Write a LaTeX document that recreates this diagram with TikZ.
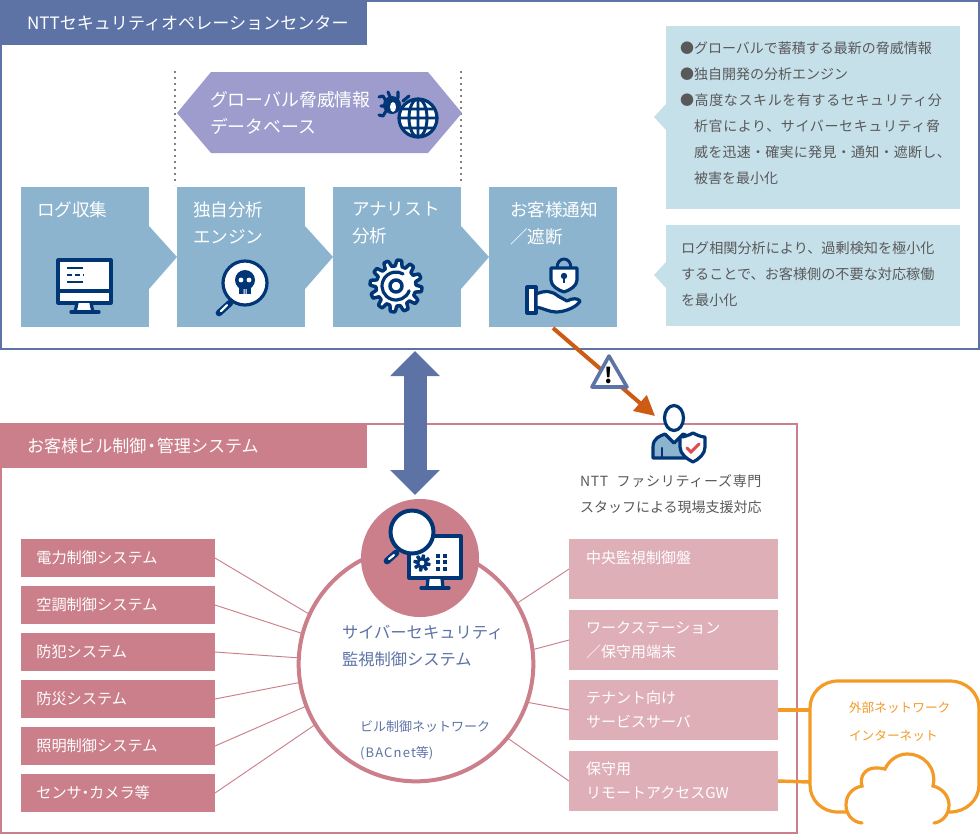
\documentclass[tikz,border=0pt]{standalone}
\usepackage{fontspec}
\setmainfont{Noto Sans CJK JP}
\usetikzlibrary{arrows.meta,positioning}
\definecolor{headblue}{HTML}{5D73A6}
\definecolor{flowblue}{HTML}{8CB4CE}
\definecolor{paleblue}{HTML}{C6E0EA}
\definecolor{dbpurple}{HTML}{9D9CCD}
\definecolor{rosedark}{HTML}{CB7F8A}
\definecolor{roselight}{HTML}{DFAFB8}
\definecolor{extorange}{HTML}{F39A27}
\definecolor{alertorange}{HTML}{CD5B14}
\definecolor{iconnavy}{HTML}{003576}
\definecolor{notegray}{HTML}{595959}
\newcommand{\wide}[1]{\addfontfeature{LetterSpace=#1}}
\tikzset{
	x=0.75pt, y=-0.75pt, % one unit is one pixel of the reference
	every node/.style={inner sep=0pt, outer sep=0pt},
	headtext/.style={text=white, anchor=west, font=\fontsize{12.8}{16}\selectfont},
	flowbox/.style={fill=flowblue, anchor=north west, minimum width=96pt, minimum height=105pt},
	flowtext/.style={text=white, anchor=north west, align=left, font=\fontsize{13.2}{20.25}\selectfont},
	notebox/.style={fill=paleblue, anchor=north west, minimum width=220.5pt},
	notetext/.style={text=notegray, anchor=north west, align=left, font=\fontsize{10.5}{19.5}\selectfont},
	ctlbox/.style={fill=rosedark, text=white, anchor=north west, minimum width=145.5pt, minimum height=28.5pt,
		inner xsep=11.5pt, text width=122.5pt, align=left, font=\fontsize{11.4}{16}\selectfont},
	subbox/.style={fill=roselight, text=white, anchor=north west, minimum width=156.75pt, minimum height=45pt,
		inner xsep=12.75pt, text width=131.25pt, align=left, font=\fontsize{11.25}{18}\selectfont},
	rosewire/.style={draw=rosedark, line width=0.7pt},
	orangewire/.style={draw=extorange, line width=2.6pt},
	dotline/.style={draw=gray, line width=1.2pt, dash pattern=on 1.2pt off 3.3pt},
	icon/.style={draw=iconnavy, line width=2.4pt, line join=round, line cap=round},
}

\begin{document}
\begin{tikzpicture}
	\useasboundingbox (0,0) rectangle (980,833);
	\fill[white] (0,0) rectangle (980,833);

	% the two frames
	\node[draw=headblue, line width=1.5pt, anchor=north west, minimum width=733.5pt, minimum height=261pt] (opsframe) at (1,1) {};
	\node[draw=rosedark, line width=1.5pt, anchor=north west, minimum width=597pt, minimum height=306.5pt] (custframe) at (1,424) {};
	\node[fill=headblue, anchor=north west, minimum width=275.25pt, minimum height=33.75pt] (opshead) at (0,0) {};
	\node[fill=rosedark, anchor=north west, minimum width=275.25pt, minimum height=33pt] (custhead) at (0,424) {};
	\node[headtext] (opslabel) at (27,23) {NTTセキュリティオペレーションセンター};
	\node[headtext] (custlabel) at (27,446) {お客様ビル制御\kern-2.5pt・\kern-2.5pt管理システム};

	% threat database
	\draw[dotline] (175,71) -- (175,185);
	\draw[dotline] (461,71) -- (461,185);
	\fill[dbpurple] (177,113) -- (211,72) -- (428,72) -- (462,113) -- (428,153) -- (211,153) -- cycle;
	\node[flowtext, font=\fontsize{13.4}{20.25}\selectfont] (dblabel) at (210,91) {グローバル脅威情報\\データベース};

	% flow boxes
	\node[flowbox] (logbox) at (21,187) {};
	\node[flowbox] (enginebox) at (177,187) {};
	\node[flowbox] (analystbox) at (333,187) {};
	\node[flowbox] (alertbox) at (489,187) {};
	\foreach \x in {149,305,461}
		\fill[flowblue] (\x,226) -- (\x+28,257) -- (\x,289) -- cycle;
	\node[flowtext] (loglabel) at (37,202) {ログ収集};
	\node[flowtext] (enginelabel) at (193,202) {独自分析\\エンジン};
	\node[flowtext] (analystlabel) at (352,202) {アナリスト\\分析};
	\node[flowtext] (alertlabel) at (510,202) {お客様通知\\／遮断};

	% notes on the right
	\node[notebox, minimum height=137.25pt] (noteone) at (666,26) {};
	\fill[paleblue] (666,104) -- (654,117) -- (666,130) -- cycle;
	\node[notetext] (noteonetext) at (680,42) {●グローバルで蓄積する最新の脅威情報\\●独自開発の分析エンジン\\{\wide{4.5}●高度なスキルを有するセキュリティ分}\\\hspace*{10.5pt}{\wide{4.5}析官により、サイバーセキュリティ脅}\\\hspace*{10.5pt}{\wide{2}威を迅速・確実に発見・通知・遮断し、}\\\hspace*{10.5pt}被害を最小化};
	\node[notebox, minimum height=75.75pt] (notetwo) at (666,225) {};
	\fill[paleblue] (666,262) -- (654,275) -- (666,288) -- cycle;
	\node[notetext, font=\fontsize{10.6}{19.5}\selectfont] (notetwotext) at (681,242) {ログ相関分析により、過剰検知を極小化\\することで、お客様側の不要な対応稼働\\を最小化};

	% link between the frames
	\coordinate (linktop) at (415,351);
	\coordinate (linkbot) at (415,495);
	\draw[headblue, line width=17.25pt, {Triangle[width=36pt,length=18.75pt]}-{Triangle[width=36pt,length=18.75pt]}] (linktop) -- (linkbot);

	% alert arrow
	\coordinate (alertend) at (655,416);
	\draw[alertorange, line width=3pt, -{Triangle[width=15pt,length=15pt]}] (553,328) -- (alertend);
	\draw[headblue, fill=white, line width=2.7pt, line join=round] (609,356) -- (592,387) -- (627,387) -- cycle;
	\node[font=\fontsize{16}{16}\selectfont\bfseries] (warnmark) at (609,375) {!};

	% person with shield
	\draw[icon, fill=flowblue] (653,458) -- (653,447) .. controls (653,438) and (660,436) .. (665,434) -- (674,443) -- (683,434) .. controls (690,436) and (695,440) .. (695,447) -- (695,458) -- cycle;
	\draw[icon, line width=1.6pt] (662,458) -- (662,448);
	\draw[icon, fill=white] (674,418) ellipse (9.5 and 12.5);
	\draw[icon, fill=white] (680,437) .. controls (685,437) and (689,435) .. (693,433) .. controls (697,435) and (701,437) .. (705,437) -- (705,447) .. controls (705,454) and (699,459) .. (693,462) .. controls (687,459) and (680,454) .. (680,447) -- cycle;
	\draw[rosedark!60!red, line width=2.2pt, line cap=round] (687,448) -- (691,452) -- (699,444);
	\node[notetext] (stafftext) at (580,475) {{\wide{5}NTT\hspace{0.6em}ファシリティーズ専門}\\スタッフによる現場支援対応};

	% control systems on the left
	\foreach \y/\n/\t in {539/ctla/電力制御システム,586/ctlb/空調制御システム,633/ctlc/防犯システム,680/ctld/防災システム,727/ctle/照明制御システム,774/ctlf/センサ\kern-3pt・\kern-3ptカメラ等}
		\node[ctlbox] (\n) at (21,\y) {\t};

	% devices on the right
	\node[subbox] (subpanel) at (569,539) {中央監視制御盤\\\mbox{}};
	\node[subbox] (subwork) at (569,610) {ワークステーション\\／保守用端末};
	\node[subbox] (subserver) at (569,680) {テナント向け\\サービスサーバ};
	\node[subbox] (subgw) at (569,751) {保守用\\リモートアクセスGW};

	% network circle
	\node[circle, draw=rosedark, fill=white, line width=3pt, minimum size=176pt] (netcircle) at (416,664) {};
	\foreach \n/\a in {ctla/155,ctlb/165.6,ctlc/177.6,ctld/189.7,ctle/201.8,ctlf/211.7}
		\draw[rosewire] (\n.east) -- (netcircle.\a);
	\foreach \n/\a in {subpanel/31.4,subwork/7.8,subserver/-19,subgw/-39.6}
		\draw[rosewire] (\n.west) -- (netcircle.\a);
	\node[circle, fill=rosedark, minimum size=88.5pt] (iconcircle) at (420,558) {};
	\node[text=headblue, anchor=north west, align=left, font=\fontsize{12.2}{20.25}\selectfont] (nettitle) at (342,625) {サイバーセキュリティ\\監視制御システム};
	\node[text=headblue, anchor=north west, align=left, font=\fontsize{9.75}{19.5}\selectfont] (netnote) at (360,721) {ビル制御ネットワーク\\{\wide{9}(BACnet}等)};

	% external network
	\draw[orangewire] (subserver.east) -- (810,710);
	\draw[orangewire] (subgw.east) -- (810,782);
	\node[text=extorange, anchor=north west, align=left, font=\fontsize{9.5}{21}\selectfont] (extlabel) at (849,702) {外部ネットワーク\\インターネット};

	% icon: monitor
	\draw[icon, fill=white] (58,260) rectangle (111,303);
	\draw[icon] (58,291) -- (111,291);
	\draw[icon, fill=white] (77,303) -- (75,312) -- (93,312) -- (91,303);
	\draw[icon] (71,312) -- (99,312);
	\draw[icon, line width=1.8pt, line cap=butt] (67,268) -- (83,268);
	\draw[icon, line width=1.8pt, line cap=butt, dash pattern=on 4pt off 2pt] (67,275) -- (84,275);
	\draw[icon, line width=1.8pt, line cap=butt] (67,282) -- (83,282);

	% icon: skull under a lens
	\draw[icon, line width=5pt] (230,303) -- (219,313);
	\draw[white, line width=1.6pt, line cap=round] (227,305) -- (221,311);
	\draw[icon, fill=white] (245,283) circle (22);
	\fill[iconnavy] (245,280) circle (10);
	\fill[iconnavy] (239,283) rectangle (251,294);
	\fill[white] (241,280) circle (2.4) (249,280) circle (2.4);
	\fill[white] (243.5,289) rectangle (244.5,294) (245.5,289) rectangle (246.5,294);

	% icon: gear
	\draw[icon, fill=white, line width=2.6pt] plot[domain=0:360, samples=181, variable=\t] ({396+(23+3*max(min(2.2*sin(12*\t),1),-1))*cos(\t)}, {286+(23+3*max(min(2.2*sin(12*\t),1),-1))*sin(\t)}) -- cycle;
	\draw[icon, line width=2.6pt] (396,286) circle (6);
	\draw[icon, line width=2.4pt] (396,286) ++(20:14) arc[start angle=20, end angle=300, radius=14];

	% icon: lock on a hand
	\draw[icon, line width=2.2pt] (557,268) .. controls (557,256) and (571,256) .. (571,268);
	\draw[icon, fill=white] (551,268) -- (577,268) -- (577,280) .. controls (577,286) and (570,290) .. (564,292) .. controls (558,290) and (551,286) .. (551,280) -- cycle;
	\fill[iconnavy] (564,276) circle (3.2);
	\fill[iconnavy] (563,276) rectangle (565,283);
	\draw[icon, fill=white] (527,287) rectangle (536,313);
	\draw[icon, fill=white] (536,294) .. controls (546,290) and (552,291) .. (558,296) -- (567,301) .. controls (572,298) and (578,298) .. (580,301) .. controls (578,306) and (566,312) .. (556,312) .. controls (549,312) and (543,308) .. (536,307) -- cycle;

	% icon: globe with bug
	\fill[iconnavy] (392,105) ellipse (9 and 9);
	\draw[icon, line width=2.3pt] (386,106) -- (381,106) (386,101) -- (383,96) -- (379,97) (386,111) -- (383,116) -- (379,115) (391,99) -- (388,92) (398,98) -- (398,92) (403,101) -- (409,96);
	\fill[white] (393,107) ellipse (3 and 5);
	\draw[icon, fill=white, line width=2.4pt] (418,118) circle (19);
	\draw[icon, line width=2.2pt] (418,118) ellipse (9 and 19) (418,99) -- (418,137) (399,118) -- (437,118) (403,109) -- (433,109) (403,128) -- (433,128);

	% icon: lens over a screen
	\draw[icon, fill=white] (409,536) rectangle (461,578);
	\draw[icon, fill=white] (428,579) -- (427,588) -- (443,588) -- (442,579);
	\draw[icon] (421,588) -- (449,588);
	\draw[icon, line width=5pt] (396,553) -- (387,561);
	\draw[white, line width=1.6pt, line cap=round] (394,555) -- (389,559);
	\draw[icon, fill=white, line width=3pt] (412,532) circle (21.5);
	\draw[icon, fill=iconnavy, line width=1pt] plot[domain=0:360, samples=97, variable=\t] ({422+(6+2*max(min(2.2*sin(8*\t),1),-1))*cos(\t)}, {563+(6+2*max(min(2.2*sin(8*\t),1),-1))*sin(\t)}) -- cycle;
	\fill[white] (422,563) circle (2.4);
	\foreach \x in {438,445}
		\foreach \y in {556,562,569}
			\fill[iconnavy] (\x-2,\y-2) rectangle (\x+2,\y+2);

	% cloud
	\draw[extorange, line width=2.4pt, line cap=round] (948,812) -- (950,812) .. controls (966,812) and (979,800) .. (979,785) -- (979,708) .. controls (979,693) and (966,681) .. (950,681) -- (838,681) .. controls (822,681) and (810,693) .. (810,708) -- (810,785) .. controls (810,800) and (822,812) .. (838,812) -- (847,812);
	\draw[extorange, line width=2.4pt, line cap=round] (862,823) .. controls (852,822) and (846,814) .. (846,805) .. controls (846,795) and (852,788) .. (862,786) .. controls (859,776) and (866,768) .. (875,768) .. controls (879,768) and (882,768) .. (885,769) .. controls (889,760) and (898,754) .. (907,754) .. controls (924,754) and (937,768) .. (933,786) .. controls (942,788) and (949,796) .. (949,805) .. controls (949,815) and (942,822) .. (934,823);
\end{tikzpicture}
\end{document}
